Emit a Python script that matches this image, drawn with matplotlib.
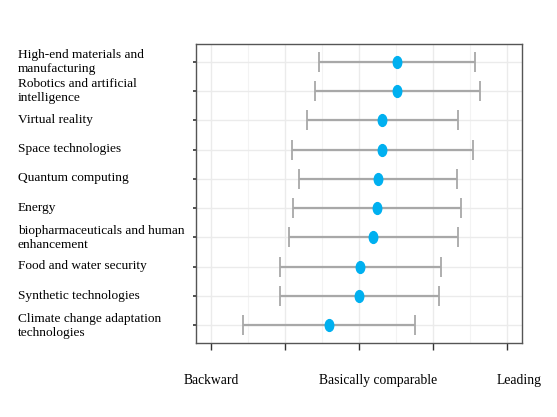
import numpy as np
import matplotlib.pyplot as plt
import matplotlib.transforms as mtransforms
from matplotlib.path import Path

# DATA (top row first)
technologies = ['High-end materials and\nmanufacturing',
                'Robotics and artificial\nintelligence',
                'Virtual reality',
                'Space technologies',
                'Quantum computing',
                'Energy',
                'biopharmaceuticals and human\nenhancement',
                'Food and water security',
                'Synthetic technologies',
                'Climate change adaptation\ntechnologies']
mean_score = [0.51, 0.51, 0.31, 0.31, 0.26, 0.24, 0.19, 0.01, 0.00, -0.41]
low_score = [-0.54, -0.59, -0.70, -0.90, -0.81, -0.89, -0.94, -1.06, -1.06, -1.57]
high_score = [1.57, 1.63, 1.33, 1.54, 1.32, 1.37, 1.33, 1.10, 1.08, 0.76]
x_ticks = [-2, -1, 0, 1, 2]
x_tick_labels = ['Backward', '', 'Basically comparable', '', 'Leading']

plt.rcParams['font.family'] = ['Liberation Serif', 'DejaVu Serif']

fig = plt.figure(figsize=(5.57, 4.17), dpi=100)
ax = fig.add_axes([196 / 557, 1 - 343 / 417, 326 / 557, 299 / 417])

n = len(technologies)
y = np.arange(n, 0, -1)
mean_score = np.array(mean_score)
err = [mean_score - np.array(low_score), np.array(high_score) - mean_score]

# dots in the original are a bit taller than wide
circ = Path.unit_circle()
oval = Path(circ.vertices * [0.72, 1.0], circ.codes)

ax.errorbar(mean_score, y, xerr=err, fmt='none', ecolor='#a8a8a8',
            elinewidth=1.6, capsize=7.5, capthick=1.3, zorder=2)
ax.plot(mean_score, y, linestyle='none', marker=oval, color='#00b0f0',
        markersize=8.5, zorder=3)

ax.set_xlim(-2.2, 2.2)
ax.set_ylim(0.4, n + 0.6)

ax.set_xticks(x_ticks)
ax.set_xticklabels(x_tick_labels, fontsize=9.8)
ax.set_xticks([-1.5, -0.5, 0.5, 1.5], minor=True)
ax.set_yticks(y)
ax.set_yticklabels(technologies, fontsize=9.6, linespacing=1.2)

ax.grid(True, which='major', color='#ebebeb', linewidth=1.0, zorder=0)
ax.grid(True, which='minor', axis='x', color='#f3f3f3', linewidth=0.8, zorder=0)
ax.set_axisbelow(True)

ax.tick_params(axis='x', which='major', length=5, width=1, color='#333333', pad=17)
ax.tick_params(axis='x', which='minor', length=0)
ax.tick_params(axis='y', length=2.5, width=1.2, color='#333333', pad=126)

shift = mtransforms.ScaledTranslation(0, 2 / 100, fig.dpi_scale_trans)
for lab in ax.get_yticklabels():
    lab.set_horizontalalignment('left')
    lab.set_transform(lab.get_transform() + shift)

# the x labels in the original sit a little right of their ticks
x_label_offsets = [1, 0, 19, 0, 12]
for lab, dx in zip(ax.get_xticklabels(), x_label_offsets):
    lab.set_transform(lab.get_transform() +
                      mtransforms.ScaledTranslation(dx / 100, 0, fig.dpi_scale_trans))

for s in ax.spines.values():
    s.set_color('#555555')
    s.set_linewidth(1.0)

fig.savefig('out.png', dpi=100)
